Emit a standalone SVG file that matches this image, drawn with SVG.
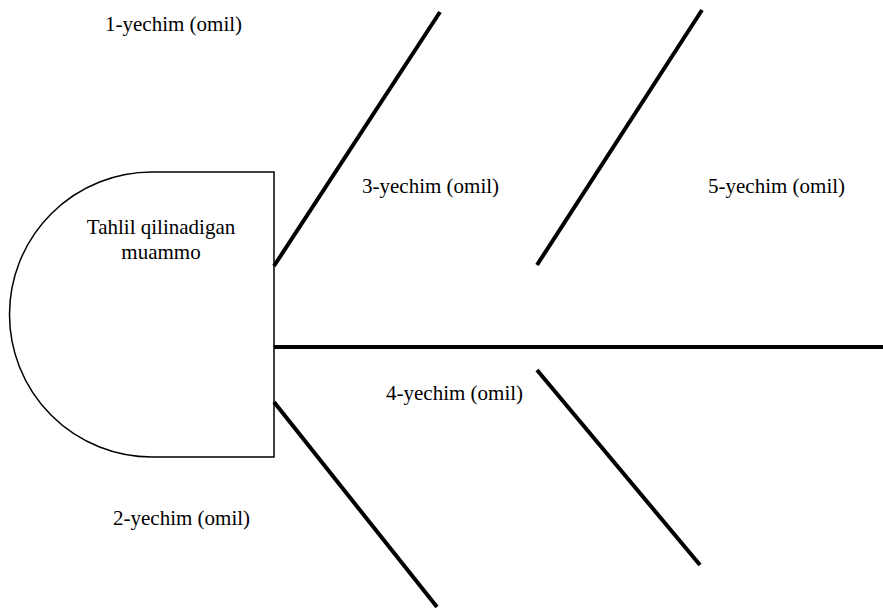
<svg xmlns="http://www.w3.org/2000/svg" width="883" height="610" viewBox="0 0 883 610">
<style>
.t{font-family:"Liberation Serif","Times New Roman",serif;font-size:21px;fill:#000}
.b{stroke:#000;stroke-width:4;fill:none;stroke-linecap:butt}
</style>
<rect width="883" height="610" fill="#fff"/>
<g id="problem">
<path d="M274,172 L152,172 A142.5,142.5 0 0 0 152,457 L274,457 Z" fill="#fff" stroke="#000" stroke-width="1.5"/>
<text class="t" x="161" y="234" text-anchor="middle">Tahlil qilinadigan</text>
<text class="t" x="161" y="259" text-anchor="middle">muammo</text>
</g>
<g id="connectors">
<line class="b" x1="274" y1="347" x2="883" y2="347"/>
<line class="b" x1="274" y1="266" x2="440" y2="12"/>
<line class="b" x1="537" y1="265" x2="702" y2="10"/>
<line class="b" x1="274" y1="402" x2="437" y2="607"/>
<line class="b" x1="537" y1="370" x2="700" y2="565"/>
</g>
<g id="f1"><text class="t" x="105" y="31">1-yechim (omil)</text></g>
<g id="f3"><text class="t" x="362" y="193">3-yechim (omil)</text></g>
<g id="f5"><text class="t" x="708" y="193">5-yechim (omil)</text></g>
<g id="f4"><text class="t" x="386" y="400">4-yechim (omil)</text></g>
<g id="f2"><text class="t" x="113" y="525">2-yechim (omil)</text></g>
</svg>
